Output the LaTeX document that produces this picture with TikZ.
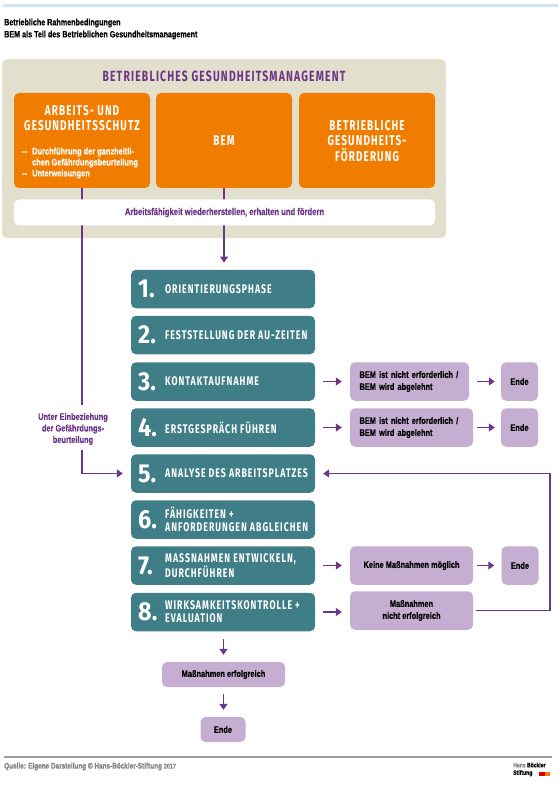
\documentclass[tikz,border=0pt]{standalone}
\usepackage{fontspec}
\setmainfont{Liberation Sans}
\newfontfamily\headfont[FakeStretch=0.70,LetterSpace=8]{Fira Sans Bold}
\newfontfamily\numfont[FakeStretch=0.9]{Fira Sans Bold}
\newfontfamily\bodyfont[FakeStretch=0.78,FakeBold=0.4]{Liberation Sans Bold}
\usetikzlibrary{arrows.meta}
\definecolor{lila}{HTML}{6C3587}
\definecolor{hellila}{HTML}{C5AED1}
\definecolor{petrol}{HTML}{407E87}
\definecolor{orangefb}{HTML}{F07D00}
\definecolor{beige}{HTML}{E2DFCD}
\definecolor{hellblau}{HTML}{CFE6EC}
\tikzset{
	box/.style={rounded corners=5pt, inner sep=0pt, align=center},
	orangebox/.style={box, fill=orangefb, text=white, minimum width=136pt, minimum height=95pt},
	stepbox/.style={box, fill=petrol, minimum width=184pt, minimum height=38.5pt},
	lilabox/.style={box, fill=hellila, text=black, minimum height=38.5pt, font=\bodyfont\fontsize{9.5}{12}\selectfont},
	headtext/.style={inner sep=0pt, align=center, text=white, font=\headfont\fontsize{14.2}{15.5}\selectfont},
	steptext/.style={inner sep=0pt, align=left, anchor=west, text=white, font=\headfont\fontsize{12.5}{13}\selectfont},
	numtext/.style={inner sep=0pt, anchor=west, text=white, font=\numfont\fontsize{26}{26}\selectfont},
	linie/.style={draw=lila, line width=1.2pt},
	pfeil/.style={linie, -{Triangle[length=6pt,width=8pt]}}
}
\begin{document}
\begin{tikzpicture}[x=1pt,y=-1pt]
	\useasboundingbox (0,0) rectangle (558,786);
	% Kopf
	\fill[hellblau] (3,4) rectangle (558,7.5);
	\node[inner sep=0pt, anchor=west, font=\bodyfont\fontsize{9.2}{11}\selectfont] (kopfa) at (4,23) {Betriebliche Rahmenbedingungen};
	\node[inner sep=0pt, anchor=west, font=\bodyfont\fontsize{9.2}{11}\selectfont] (kopfb) at (4,35) {BEM als Teil des Betrieblichen Gesundheitsmanagement};

	% oberer Block
	\node[box, fill=beige, minimum width=444pt, minimum height=179pt] (bgm) at (224,148.5) {};
	\node[inner sep=0pt, text=lila, font=\headfont\fontsize{14.8}{16}\selectfont] (bgmtitel) at (224,76) {BETRIEBLICHES GESUNDHEITSMANAGEMENT};
	\node[orangebox] (arbeit) at (82,140.5) {};
	\node[orangebox] (bem) at (224,140.5) {};
	\node[orangebox] (bgf) at (367,140.5) {};
	\node[headtext] (arbeittext) at (82,118) {ARBEITS- UND\\GESUNDHEITSSCHUTZ};
	\node[inner sep=0pt, anchor=west, align=left, text=white, font=\bodyfont\fontsize{9.5}{11}\selectfont] (arbeitliste) at (22,163) {\makebox[10pt][l]{--}Durchführung der ganzheitli-\\\hspace*{10pt}chen Gefährdungsbeurteilung\\\makebox[10pt][l]{--}Unterweisungen};
	\node[headtext] (bemtext) at (224,141) {BEM};
	\node[headtext] (bgftext) at (367,141) {BETRIEBLICHE\\GESUNDHEITS-\\FÖRDERUNG};

	% die acht Schritte
	\node[stepbox] (s1) at (223,289) {};
	\node[stepbox] (s2) at (223,335) {};
	\node[stepbox] (s3) at (223,381.5) {};
	\node[stepbox] (s4) at (223,427.5) {};
	\node[stepbox] (s5) at (223,473.5) {};
	\node[stepbox] (s6) at (223,519.5) {};
	\node[stepbox] (s7) at (223,565.5) {};
	\node[stepbox] (s8) at (223,612) {};
	\node[numtext] (n1) at (138,289) {1.};
	\node[numtext] (n2) at (138,335) {2.};
	\node[numtext] (n3) at (138,381.5) {3.};
	\node[numtext] (n4) at (138,427.5) {4.};
	\node[numtext] (n5) at (138,473.5) {5.};
	\node[numtext] (n6) at (138,519.5) {6.};
	\node[numtext] (n7) at (138,565.5) {7.};
	\node[numtext] (n8) at (138,612) {8.};
	\node[steptext] (t1) at (165,289) {ORIENTIERUNGSPHASE};
	\node[steptext] (t2) at (165,335) {FESTSTELLUNG DER AU-ZEITEN};
	\node[steptext] (t3) at (165,381.5) {KONTAKTAUFNAHME};
	\node[steptext] (t4) at (165,427.5) {ERSTGESPRÄCH FÜHREN};
	\node[steptext] (t5) at (165,473.5) {ANALYSE DES ARBEITSPLATZES};
	\node[steptext] (t6) at (165,519.5) {FÄHIGKEITEN +\\ANFORDERUNGEN ABGLEICHEN};
	\node[steptext] (t7) at (165,565.5) {MASSNAHMEN ENTWICKELN,\\DURCHFÜHREN};
	\node[steptext] (t8) at (165,612) {WIRKSAMKEITSKONTROLLE +\\EVALUATION};

	% rechte Spalte
	\node[lilabox, align=left, minimum width=119pt, text width=100pt] (p3) at (409.5,381.5) {BEM ist nicht erforderlich /\\BEM wird abgelehnt};
	\node[lilabox, align=left, minimum width=123pt, text width=104pt] (p4) at (411.5,427.5) {BEM ist nicht erforderlich /\\BEM wird abgelehnt};
	\node[lilabox, minimum width=123pt] (p7) at (411.5,565.5) {Keine Maßnahmen möglich};
	\node[lilabox, minimum width=123pt] (p8) at (411.5,610.5) {Maßnahmen\\nicht erfolgreich};
	\node[lilabox, minimum width=37pt] (e3) at (519.5,381.5) {Ende};
	\node[lilabox, minimum width=37pt] (e4) at (519.5,427.5) {Ende};
	\node[lilabox, minimum width=37pt] (e7) at (520,565.5) {Ende};

	% untere Boxen
	\node[lilabox, minimum width=123pt, minimum height=25pt] (erfolg) at (223.5,674.5) {Maßnahmen erfolgreich};
	\node[lilabox, minimum width=45pt, minimum height=25pt] (ende) at (223,729.5) {Ende};

	% Beschriftung links
	\node[inner sep=0pt, align=center, text=lila, font=\bodyfont\fontsize{9.5}{11.5}\selectfont] (einbez) at (73,429) {Unter Einbeziehung\\der Gefährdungs-\\beurteilung};

	% Pfeile
	\coordinate (rand) at (550,473.5);
	\draw[linie, shorten >=8pt] (arbeit.south) -- (arbeit.south |- einbez.north);
	\draw[pfeil, shorten <=5pt, shorten >=8pt] (arbeit.south |- einbez.south) -- (arbeit.south |- s5.west) -- (s5.west);
	\draw[pfeil, shorten >=7pt] (bem.south) -- (s1.north -| bem.south);
	\draw[pfeil, shorten <=8pt, shorten >=8pt] (s3) -- (p3);
	\draw[pfeil, shorten <=8pt, shorten >=8pt] (s4) -- (p4);
	\draw[pfeil, shorten <=8pt, shorten >=8pt] (s7) -- (p7);
	\draw[pfeil, shorten <=8pt, shorten >=8pt] (s8.east) -- (p8.west |- s8.east);
	\draw[pfeil, shorten <=8pt, shorten >=6pt] (p3) -- (e3);
	\draw[pfeil, shorten <=4pt, shorten >=6pt] (p4) -- (e4);
	\draw[pfeil, shorten <=4pt, shorten >=7pt] (p7) -- (e7);
	\draw[pfeil, shorten <=3pt, shorten >=8pt] (p8.east) -- (rand |- p8.east) -- (rand) -- (s5.east);
	\draw[pfeil, shorten <=8pt, shorten >=7pt] (s8.south -| erfolg.north) -- (erfolg.north);
	\draw[pfeil, shorten <=7pt, shorten >=7pt] (erfolg.south) -- (ende.north -| erfolg.south);

	% weisse Zeile, liegt ueber den Linien
	\node[box, fill=white, minimum width=421pt, minimum height=26pt, text=lila, font=\bodyfont\fontsize{9.8}{11}\selectfont] (ziel) at (224.5,212.5) {Arbeitsfähigkeit wiederherstellen, erhalten und fördern};

	% Fuss
	\draw[gray!75, line width=1.2pt] (4,757) -- (552,757);
	\node[inner sep=0pt, anchor=west, text=black!50, font=\bodyfont\fontsize{8.2}{10}\selectfont] (quelle) at (4,766.5) {Quelle: Eigene Darstellung © Hans-Böckler-Stiftung {\fontsize{7}{10}\selectfont 2017}};
	\node[inner sep=0pt, anchor=west, align=left, font=\bodyfont\fontsize{6.5}{7.5}\selectfont] (logo) at (513,769.5) {{\color{black!50}Hans} Böckler\\Stiftung};
	\fill[red!85!black] (539,772) rectangle (545,776);
	\fill[orangefb] (545,772) rectangle (550,776);
\end{tikzpicture}
\end{document}
